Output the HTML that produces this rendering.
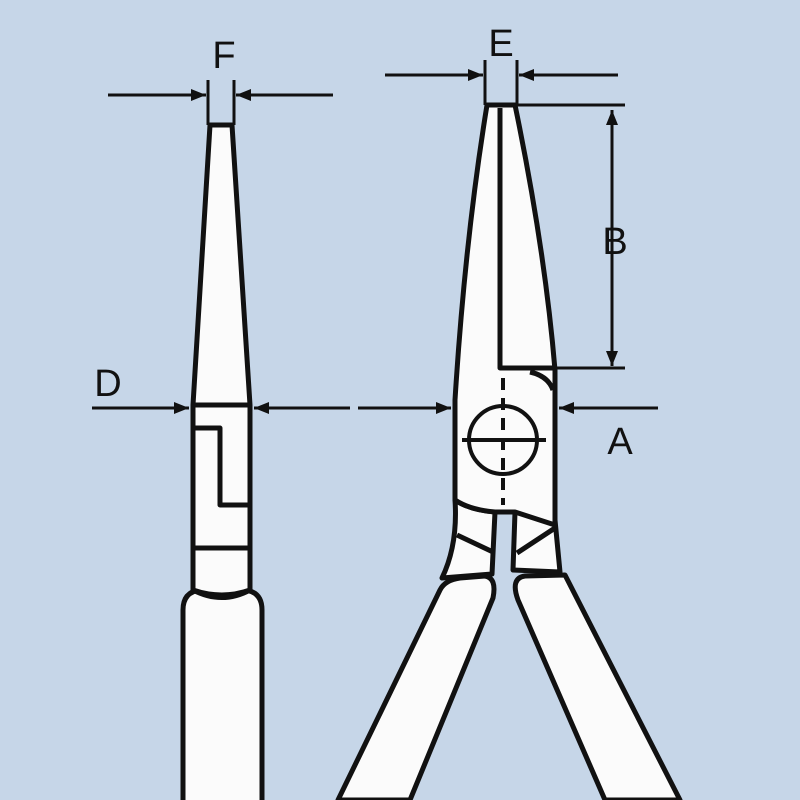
<!DOCTYPE html><html><head><style>body{margin:0;background:#c6d6e8}svg{display:block}</style></head><body>
<svg width="800" height="800" viewBox="0 0 800 800" xmlns="http://www.w3.org/2000/svg">
<defs><marker id="a" viewBox="0 0 10 10" refX="10" refY="5" markerWidth="5" markerHeight="5" orient="auto-start-reverse"><path d="M0,1L10,5L0,9z" fill="#111"/></marker></defs>
<rect width="800" height="800" fill="#c6d6e8"/>
<g stroke="#111" stroke-width="5" fill="#fbfbfb" stroke-linejoin="round">
<!-- left plier -->
<path d="M183,800 L183,610 Q183,592 200,590 L245,590 Q262,592 262,610 L262,800"/>
<path d="M210,125 L232,125 L250,405 L250,590 Q222,600 193,590 L193,405 Z"/>
<path d="M193,405H250M195,428H220V505H250M193,548H250M193,590Q222,605 250,590" fill="none"/>
<!-- right plier handles -->
<path d="M440,590 Q445,580 460,578 L485,576 Q497,578 493,598 L410,800 L338,800 Z"/>
<path d="M565,575 L680,800 L605,800 L518,600 Q510,578 525,576 Z"/>
<!-- neck -->
<path d="M455,500 Q458,545 442,578 L492,574 L495,512 Q470,510 455,500 Z"/>
<path d="M555,520 L560,572 L513,570 L515,512 Z"/>
<path d="M457,535 L493,552 M517,553 L555,528" fill="none"/>
<!-- head -->
<path d="M487,105 L515,105 Q545,250 555,370 L555,525 L515,512 L495,512 Q470,510 455,500 L455,400 Q465,240 487,105 Z"/>
<path d="M500,108 V368 H555 M530,372 Q548,376 553,390" fill="none"/>
<circle cx="503" cy="440" r="34" fill="none" stroke-width="4"/>
<path d="M462,440H546" fill="none" stroke-width="4"/>
<path d="M503,378V505" fill="none" stroke-width="4" stroke-dasharray="12 8"/>
</g>
<g stroke="#111" stroke-width="3" fill="none">
<path d="M208,80V125M234,80V125M485,60V105M517,60V105M515,105H625M555,368H625"/>
<path d="M108,95H206" marker-end="url(#a)"/><path d="M333,95H236" marker-end="url(#a)"/>
<path d="M385,75H483" marker-end="url(#a)"/><path d="M618,75H519" marker-end="url(#a)"/>
<path d="M612,110V366" marker-start="url(#a)" marker-end="url(#a)"/>
<path d="M92,408H189" marker-end="url(#a)"/><path d="M350,408H254" marker-end="url(#a)"/>
<path d="M358,408H451" marker-end="url(#a)"/><path d="M658,408H559" marker-end="url(#a)"/>
</g>
<g font-family="Liberation Sans, sans-serif" font-size="38" fill="#111" text-anchor="middle">
<text x="224" y="68">F</text><text x="501" y="56">E</text><text x="615" y="254">B</text><text x="108" y="396">D</text><text x="620" y="454">A</text>
</g>
</svg></body></html>
